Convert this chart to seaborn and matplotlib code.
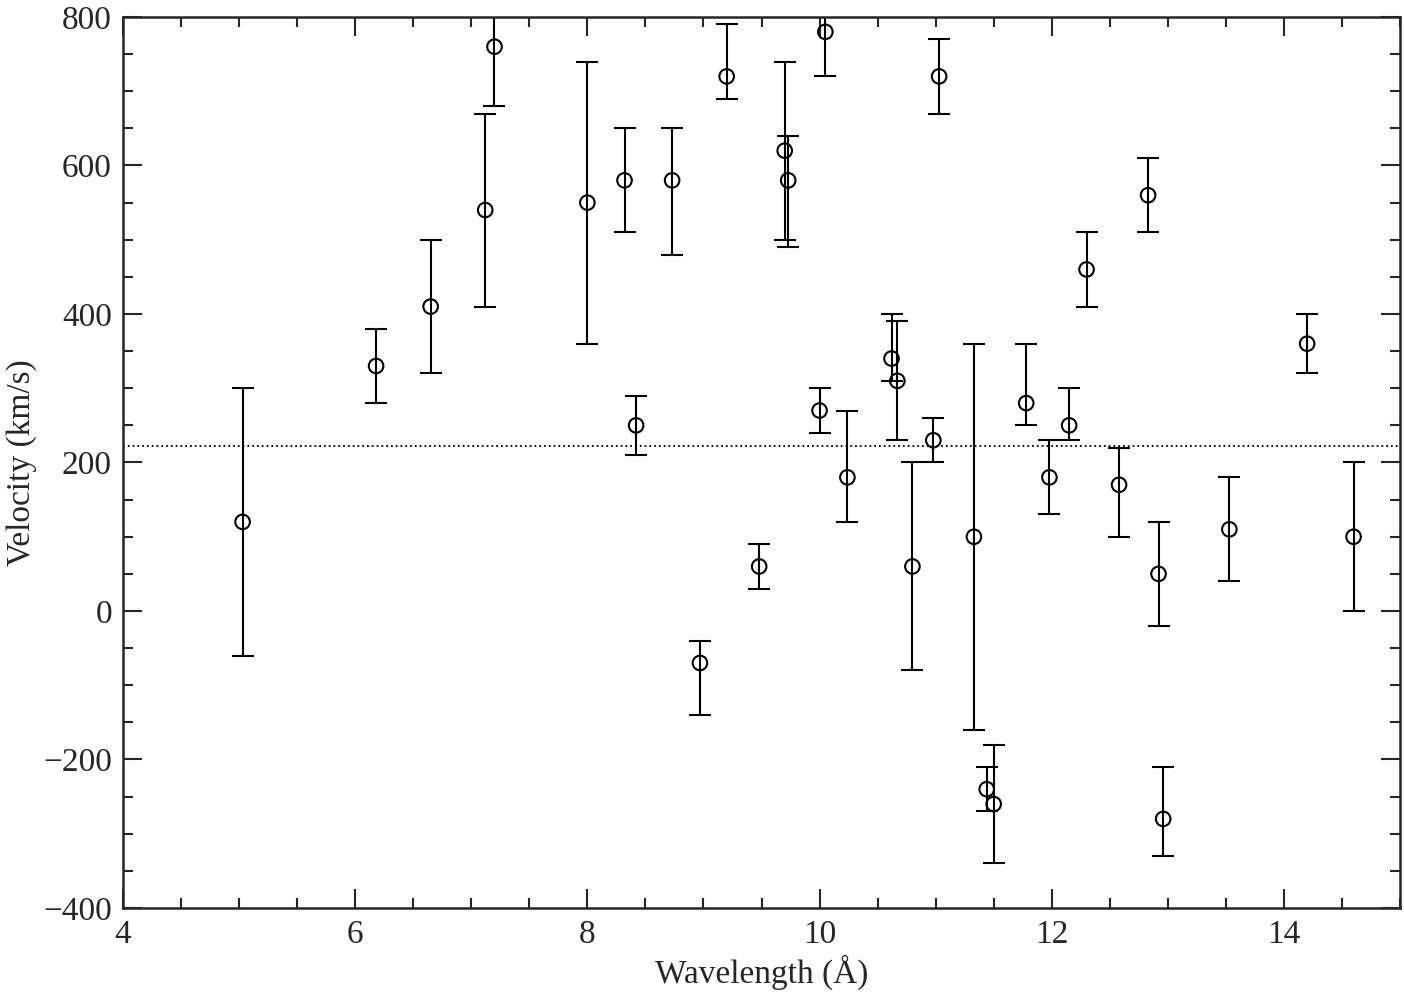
import matplotlib
matplotlib.use("Agg")
import matplotlib.pyplot as plt
import numpy as np
import pandas as pd
import seaborn as sns
from matplotlib.ticker import MultipleLocator

# values
wavelength = [5.03, 6.18, 6.65, 7.12, 7.20, 8.00, 8.32, 8.42, 8.73, 8.97, 9.20, 9.48,
              9.70, 9.73, 10.00, 10.05, 10.24, 10.62, 10.67, 10.80, 10.98, 11.03, 11.33,
              11.44, 11.50, 11.78, 11.98, 12.15, 12.30, 12.58, 12.83, 12.92, 12.96,
              13.53, 14.20, 14.60]
velocity = [120, 330, 410, 540, 760, 550, 580, 250, 580, -70, 720, 60,
            620, 580, 270, 780, 180, 340, 310, 60, 230, 720, 100,
            -240, -260, 280, 180, 250, 460, 170, 560, 50, -280,
            110, 360, 100]
err_low = [-60, 280, 320, 410, 680, 360, 510, 210, 480, -140, 690, 30,
           500, 490, 240, 720, 120, 310, 230, -80, 200, 670, -160,
           -270, -340, 250, 130, 230, 410, 100, 510, -20, -330,
           40, 320, 0]
err_high = [300, 380, 500, 670, 840, 740, 650, 290, 650, -40, 790, 90,
            740, 640, 300, 840, 270, 400, 390, 200, 260, 770, 360,
            -210, -180, 360, 230, 300, 510, 220, 610, 120, -210,
            180, 400, 200]
mean_velocity = 222

sns.set_style("ticks")
plt.rcParams['font.family'] = ['Liberation Serif', 'DejaVu Serif']

df = pd.DataFrame({'Wavelength': wavelength, 'Velocity': velocity})
lo = np.array(velocity) - np.array(err_low)
hi = np.array(err_high) - np.array(velocity)

fig = plt.figure(figsize=(14.04, 10.02), dpi=100)
ax = fig.add_axes([123 / 1404, 1 - 908 / 1002, (1400 - 123) / 1404, (908 - 17) / 1002])
ax.errorbar(wavelength, velocity, yerr=[lo, hi], fmt='none', ecolor='black',
            elinewidth=1.5, capsize=8, capthick=1.5)
sns.scatterplot(data=df, x='Wavelength', y='Velocity', ax=ax, marker='o', s=110,
                facecolor='none', edgecolor='black', linewidth=1.5, zorder=3)
ax.axhline(mean_velocity, color='black', linestyle=':', linewidth=1.3)

ax.set_xlim(4, 15)
ax.set_ylim(-400, 800)
ax.xaxis.set_major_locator(MultipleLocator(2))
ax.xaxis.set_minor_locator(MultipleLocator(0.5))
ax.yaxis.set_major_locator(MultipleLocator(200))
ax.yaxis.set_minor_locator(MultipleLocator(50))
ax.tick_params(which='both', direction='in', top=True, right=True, width=1.5)
ax.tick_params(which='major', length=14, labelsize=24, pad=8)
ax.tick_params(which='minor', length=7)
for s in ax.spines.values():
    s.set_linewidth(1.8)
ax.set_xlabel("Wavelength (Å)", fontsize=24, labelpad=4)
ax.set_ylabel("Velocity (km/s)", fontsize=24, labelpad=4)

fig.savefig("out.png", dpi=100)
